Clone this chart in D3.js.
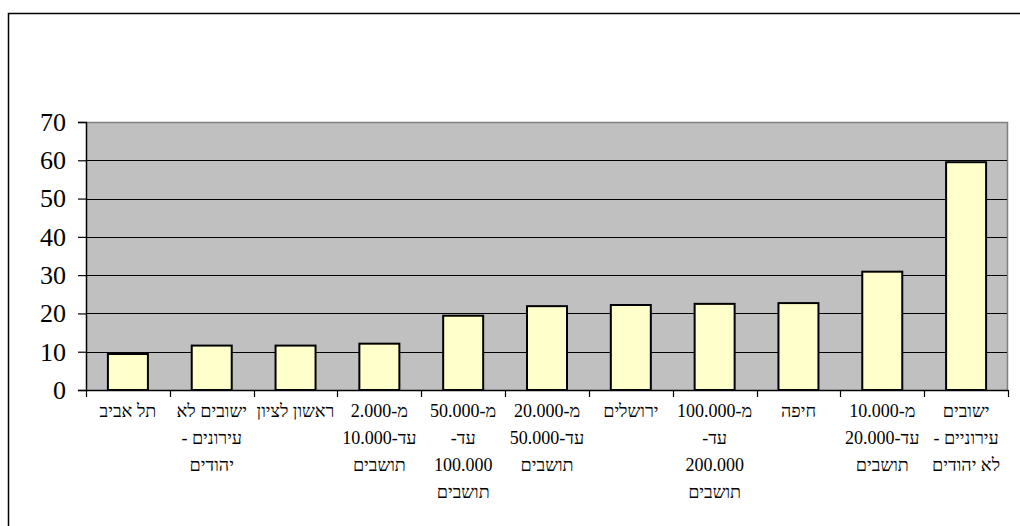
<!DOCTYPE html>
<html>
<head>
<meta charset="utf-8">
<script src="https://cdn.jsdelivr.net/npm/d3@7"></script>
<style>
  html, body { margin: 0; padding: 0; background: #fff; }
  svg { display: block; }
</style>
</head>
<body>
<script>
// ---- data ----
const categories = [
  ["תל אביב"],
  ["ישובים לא", "עירונים -", "יהודים"],
  ["ראשון לציון"],
  ["מ-2.000", "עד-10.000", "תושבים"],
  ["מ-50.000", "עד-", "100.000", "תושבים"],
  ["מ-20.000", "עד-50.000", "תושבים"],
  ["ירושלים"],
  ["מ-100.000", "עד-", "200.000", "תושבים"],
  ["חיפה"],
  ["מ-10.000", "עד-20.000", "תושבים"],
  ["ישובים", "עירוניים -", "לא יהודים"]
];
const values = [9.4, 11.6, 11.6, 12.1, 19.4, 21.9, 22.2, 22.5, 22.7, 30.9, 59.5];
const yTicks = [0, 10, 20, 30, 40, 50, 60, 70];

// ---- layout ----
const W = 1020, H = 526;
const plot = { left: 86, top: 122, right: 1008, bottom: 390 };

const svg = d3.select("body").append("svg").attr("width", W).attr("height", H);

// outer frame
svg.append("rect")
  .attr("x", 8.5).attr("y", 13.5)
  .attr("width", W + 20).attr("height", H + 20)
  .attr("fill", "#fff").attr("stroke", "#000").attr("stroke-width", 1.5);

const x = d3.scaleBand()
  .domain(d3.range(categories.length))
  .range([plot.left, plot.right])
  .paddingInner(0).paddingOuter(0);

const y = d3.scaleLinear().domain([0, 70]).range([plot.bottom, plot.top]);

// plot background
svg.append("rect")
  .attr("x", plot.left).attr("y", plot.top)
  .attr("width", plot.right - plot.left).attr("height", plot.bottom - plot.top)
  .attr("fill", "#C0C0C0");
// top/right gray border
svg.append("path")
  .attr("d", `M${plot.left},${plot.top + 0.5}H${plot.right - 0.5}V${plot.bottom}`)
  .attr("fill", "none").attr("stroke", "#808080").attr("stroke-width", 1.5);

// gridlines
svg.append("g").selectAll("line")
  .data(yTicks.filter(t => t > 0 && t < 70))
  .join("line")
  .attr("x1", plot.left).attr("x2", plot.right - 1)
  .attr("y1", d => Math.round(y(d)) + 0.5).attr("y2", d => Math.round(y(d)) + 0.5)
  .attr("stroke", "#000").attr("stroke-width", 1);

// bars
const barW = 40;
svg.append("g").selectAll("rect")
  .data(values)
  .join("rect")
  .attr("x", (d, i) => x(i) + x.bandwidth() / 2 - barW / 2)
  .attr("y", d => y(d))
  .attr("width", barW)
  .attr("height", d => y(0) - y(d))
  .attr("fill", "#FFFFCC")
  .attr("stroke", "#000")
  .attr("stroke-width", 2);

// y axis
const yAxis = d3.axisLeft(y).tickValues(yTicks).tickSize(8).tickPadding(12);
const gy = svg.append("g").attr("transform", `translate(${plot.left},0)`).call(yAxis);
gy.select(".domain").attr("stroke", "#000").attr("stroke-width", 1.5);
gy.selectAll(".tick line").attr("stroke", "#000").attr("stroke-width", 1.2);
gy.selectAll(".tick text")
  .attr("font-family", "'Liberation Serif', 'Times New Roman', serif")
  .attr("font-size", 26).attr("fill", "#000");

// x axis
const xAxis = d3.axisBottom(x).tickSize(0).tickFormat("");
const gx = svg.append("g").attr("transform", `translate(0,${plot.bottom})`).call(xAxis);
gx.select(".domain").attr("stroke", "#000").attr("stroke-width", 1.5);
// band-boundary ticks
gx.append("g").selectAll("line")
  .data(d3.range(categories.length + 1))
  .join("line")
  .attr("x1", i => Math.round(plot.left + i * x.bandwidth()) + 0.5)
  .attr("x2", i => Math.round(plot.left + i * x.bandwidth()) + 0.5)
  .attr("y1", 0).attr("y2", 7)
  .attr("stroke", "#000").attr("stroke-width", 1.2);

// category labels
const labels = svg.append("g")
  .attr("font-family", "'Liberation Serif', 'Times New Roman', serif")
  .attr("font-size", 18).attr("fill", "#000");
categories.forEach((lines, i) => {
  const cx = x(i) + x.bandwidth() / 2;
  const t = labels.append("text")
    .attr("text-anchor", "middle")
    .attr("direction", "rtl")
    .attr("x", cx)
    .attr("y", 417);
  lines.forEach((ln, j) => {
    t.append("tspan")
      .attr("x", cx)
      .attr("y", 417 + j * 27)
      .text(ln);
  });
});
</script>
</body>
</html>
